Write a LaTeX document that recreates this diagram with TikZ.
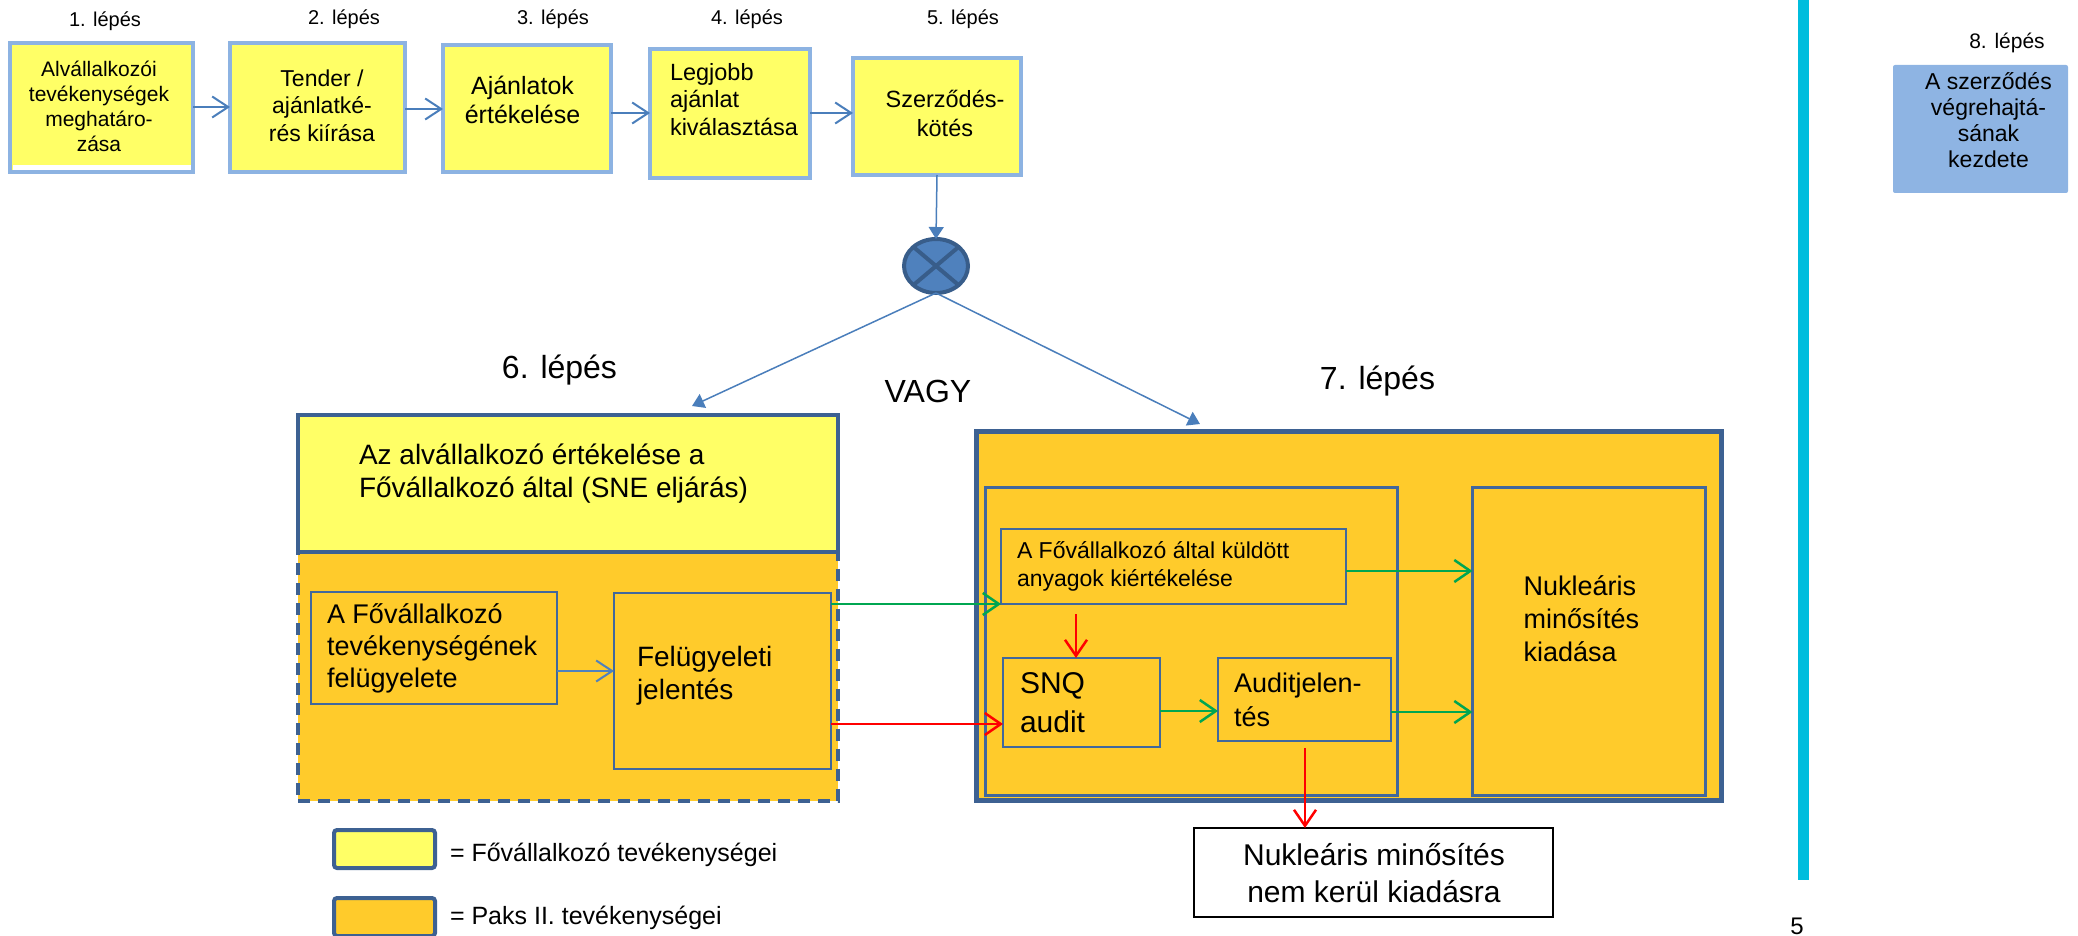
\documentclass[tikz,border=0pt]{standalone}
\usepackage{fontspec}
\setmainfont{Liberation Sans}
\usetikzlibrary{arrows.meta,shapes.geometric}
\definecolor{yel}{HTML}{FFFF66}
\definecolor{org}{HTML}{FFCB2B}
\definecolor{lblue}{HTML}{8DB3E2}
\definecolor{dblue}{HTML}{3D6192}
\definecolor{iblue}{HTML}{41689C}
\definecolor{ablue}{HTML}{4A7EBB}
\definecolor{bfill}{HTML}{8EB4E3}
\definecolor{cfill}{HTML}{4F81BD}
\definecolor{cdark}{HTML}{385D8A}
\definecolor{grn}{HTML}{00A651}
\definecolor{cyanbar}{HTML}{00BDDD}
\newcommand\myfs[2]{\fontsize{#1}{#2}\selectfont}
\begin{document}
\begin{tikzpicture}[x=1pt,y=-1pt,
  every node/.style={inner sep=0pt,outer sep=0pt},
  topbox/.style={draw=lblue,line width=4pt,fill=yel},
  yelbox/.style={draw=dblue,line width=4pt,fill=yel},
  orgdash/.style={draw=dblue,line width=4pt,fill=org,dash pattern=on 12pt off 8pt},
  bigbox/.style={draw=dblue,line width=5pt,fill=org},
  inbox/.style={draw=iblue,line width=2pt,fill=org},
  midbox/.style={draw=iblue,line width=3pt,fill=org},
  txt/.style={text=black},
  barr/.style={draw=ablue,line width=2pt,-{Straight Barb[length=16pt,width=21pt,line width=2pt]}},
  tarr/.style={draw=ablue,line width=1.5pt,-{Triangle[length=12pt,width=15pt]}},
  garr/.style={draw=grn,line width=2.5pt,-{Straight Barb[length=16pt,width=22pt,line width=2.5pt]}},
  rarr/.style={draw=red,line width=2.5pt,-{Straight Barb[length=16pt,width=22pt,line width=2.5pt]}},
  steplab/.style={font=\myfs{20}{24}},
  biglab/.style={font=\myfs{32}{38}}
]
\useasboundingbox (0,0) rectangle (2078,936);

% ---- step labels
\node[steplab] (l1) at (105,21) {1. lépés};
\node[steplab] (l2) at (344,19) {2. lépés};
\node[steplab] (l3) at (553,19) {3. lépés};
\node[steplab] (l4) at (747,19) {4. lépés};
\node[steplab] (l5) at (963,19) {5. lépés};
\node[font=\myfs{21}{25}] (l8) at (2007,43) {8. lépés};

% ---- top boxes
\node[topbox,minimum width=183pt,minimum height=129pt] (b1) at (101.5,107.5) {};
\fill[white] (12.5,165) rectangle (190.5,169.6);
\node[topbox,minimum width=175pt,minimum height=129pt] (b2) at (317.5,107.5) {};
\node[topbox,minimum width=168pt,minimum height=127pt] (b3) at (527,108.5) {};
\node[topbox,minimum width=160pt,minimum height=129pt] (b4) at (730,113.5) {};
\node[topbox,minimum width=168pt,minimum height=117pt] (b5) at (937,116.5) {};
\node[fill=bfill,rounded corners=2pt,minimum width=175pt,minimum height=128pt] (b8) at (1980.5,129) {};

\node[txt,align=center,font=\myfs{21}{25}] (t1) at (99,106) {Alvállalkozói\\tevékenységek\\meghatáro-\\zása};
\node[txt,align=center,font=\myfs{23}{27.5}] (t2) at (322,105.5) {Tender /\\ajánlatké-\\rés kiírása};
\node[txt,align=center,font=\myfs{25}{29}] (t3) at (522.5,99.5) {Ajánlatok\\értékelése};
\node[txt,align=left,anchor=west,font=\myfs{23.5}{27.5}] (t4) at (670,99.5) {Legjobb\\ajánlat\\kiválasztása};
\node[txt,align=center,font=\myfs{23.5}{29}] (t5) at (945,113.5) {Szerződés-\\kötés};
\node[txt,align=center,font=\myfs{23}{26}] (t8) at (1988.5,120.5) {A szerződés\\végrehajtá-\\sának\\kezdete};

\draw[barr] (b1.east |- 0,107) -- (b2.west |- 0,107);
\draw[barr] (b2.east |- 0,109) -- (b3.west |- 0,109);
\draw[barr] (b3.east |- 0,113) -- (b4.west |- 0,113);
\draw[barr] (b4.east |- 0,113) -- (b5.west |- 0,113);

% ---- OR gate
\node[ellipse,draw=cdark,line width=4pt,fill=cfill,minimum width=64pt,minimum height=54pt] (or) at (936,266) {};
\draw[cdark,line width=4pt] (or.north west) -- (or.south east);
\draw[cdark,line width=4pt] (or.north east) -- (or.south west);
\draw[tarr] (b5.south) -- (or.north);
\coordinate (a6) at (692,406);
\coordinate (a7) at (1200,424);
\draw[tarr] (or.south) -- (a6);
\draw[tarr] (or.south) -- (a7);

\node[biglab] (l6) at (559.5,370) {6. lépés};
\node[biglab] (vagy) at (928,391) {VAGY};
\node[biglab] (l7) at (1377.5,381) {7. lépés};

% ---- step 6
\node[orgdash,minimum width=540pt,minimum height=249pt] (s6b) at (568,676.5) {};
\node[yelbox,minimum width=540pt,minimum height=137pt] (s6a) at (568,483.5) {};
\node[txt,align=left,anchor=west,font=\myfs{28}{33}] (t6a) at (359,473.5) {Az alvállalkozó értékelése a\\Fővállalkozó által (SNE eljárás)};
\node[inbox,minimum width=246pt,minimum height=112pt] (fa) at (434,648) {};
\node[inbox,minimum width=217pt,minimum height=176pt] (fj) at (722.5,681) {};
\node[txt,align=left,anchor=west,font=\myfs{27}{32}] (tfa) at (327,648.5) {A Fővállalkozó\\tevékenységének\\felügyelete};
\node[txt,align=left,anchor=west,font=\myfs{28}{33}] (tfj) at (637,675.5) {Felügyeleti\\jelentés};
\draw[barr,draw=cfill] (fa.east |- 0,671) -- (fj.west |- 0,671);

% ---- step 7
\node[bigbox,minimum width=745pt,minimum height=369pt] (s7) at (1349,616) {};
\node[midbox,minimum width=412pt,minimum height=308pt] (s7l) at (1191.5,641.5) {};
\node[midbox,minimum width=233pt,minimum height=308pt] (nk) at (1589,641.5) {};
\node[inbox,minimum width=345pt,minimum height=75pt] (ke) at (1173.5,566.5) {};
\node[inbox,minimum width=157pt,minimum height=89pt] (snq) at (1081.5,702.5) {};
\node[inbox,minimum width=173pt,minimum height=83pt] (aj) at (1304.5,699.5) {};
\node[draw=black,line width=2.5pt,fill=white,minimum width=359pt,minimum height=89pt] (nn) at (1373.5,872.5) {};

\node[txt,align=left,anchor=west,font=\myfs{23}{28}] (tke) at (1017,566) {A Fővállalkozó által küldött\\anyagok kiértékelése};
\node[txt,align=left,anchor=west,font=\myfs{30}{39}] (tsnq) at (1020,702.5) {SNQ\\audit};
\node[txt,align=left,anchor=west,font=\myfs{27}{34}] (taj) at (1234,700) {Auditjelen-\\tés};
\node[txt,align=left,anchor=west,font=\myfs{27}{33}] (tnk) at (1523.5,619) {Nukleáris\\minősítés\\kiadása};
\node[txt,align=center,font=\myfs{30}{37}] (tnn) at (1374,873.5) {Nukleáris minősítés\\nem kerül kiadásra};

\draw[garr] (fj.east |- 0,604) -- (ke.south west);
\draw[rarr] (fj.east |- 0,724) -- (snq.west |- 0,724);
\draw[garr] (ke.east |- 0,571) -- (nk.west |- 0,571);
\coordinate (r1) at (1076,614);
\draw[rarr] (r1) -- (snq.north -| r1);
\draw[garr] (snq.east |- 0,711) -- (aj.west |- 0,711);
\draw[garr] (aj.east |- 0,712) -- (nk.west |- 0,712);
\coordinate (r2) at (1305,748);
\draw[rarr] (r2) -- (nn.north -| r2);

% ---- legend
\node[draw=dblue,line width=4pt,fill=yel,rounded corners=3pt,minimum width=101pt,minimum height=38pt] (lg1) at (384.5,849) {};
\node[draw=dblue,line width=4pt,fill=org,rounded corners=3pt,minimum width=101pt,minimum height=38pt] (lg2) at (384.5,917) {};
\node[txt,anchor=west,font=\myfs{25}{30}] (lt1) at (450,855) {= Fővállalkozó tevékenységei};
\node[txt,anchor=west,font=\myfs{25}{30}] (lt2) at (450,918) {= Paks II. tevékenységei};

% ---- side bar and page number
\fill[cyanbar] (1798,0) rectangle (1809,880);
\node[font=\myfs{24}{28}] (pg) at (1797,926) {5};
\end{tikzpicture}
\end{document}
